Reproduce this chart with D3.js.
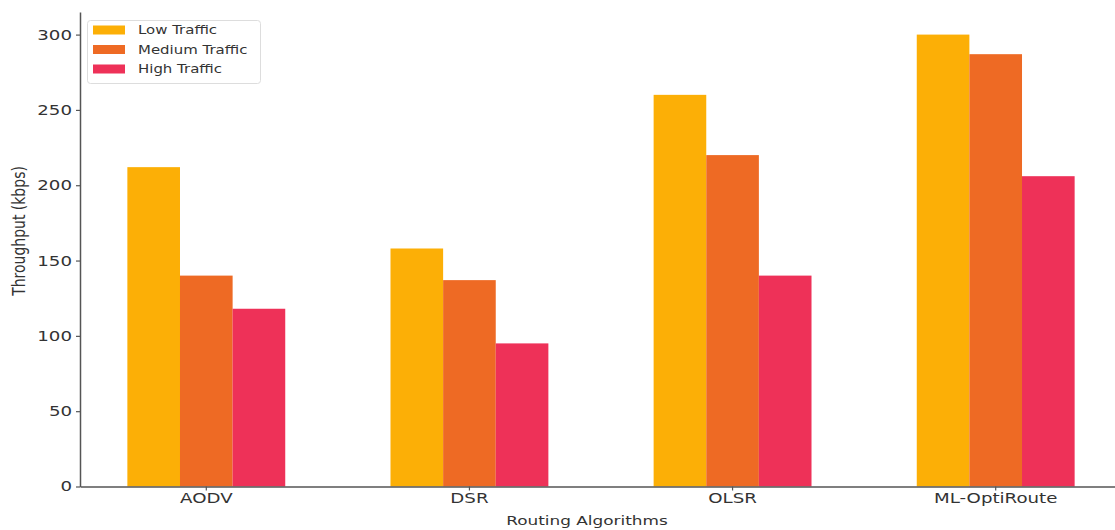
<!DOCTYPE html>
<html>
<head>
<meta charset="utf-8">
<script src="https://cdn.jsdelivr.net/npm/d3@7"></script>
<style>
  html, body { margin: 0; padding: 0; background: #fff; }
  svg { display: block; }
  text { font-family: "DejaVu Sans", sans-serif; fill: #333; }
</style>
</head>
<body>
<div id="chart"></div>
<script>
const categories = ["AODV", "DSR", "OLSR", "ML-OptiRoute"];
const seriesNames = ["Low Traffic", "Medium Traffic", "High Traffic"];
const lowTraffic = [212, 158, 260, 300];
const mediumTraffic = [140, 137, 220, 287];
const highTraffic = [118, 95, 140, 206];
const yTicks = [0, 50, 100, 150, 200, 250, 300];
const colors = ["#FCAF06", "#EE6A24", "#EE3158"];
const xLabel = "Routing Algorithms";
const yLabel = "Throughput (kbps)";

(function () {
const seriesValues = [lowTraffic, mediumTraffic, highTraffic];
const W = 1115, H = 530;
const SX = 1.3; // horizontal stretch of text in the reference

const svg = d3.select("#chart").append("svg").attr("width", W).attr("height", H);

const plotLeft = 80, plotRight = 1122, plotTop = 12, plotBottom = 486.5;

const x0 = d3.scaleBand().domain(categories).range([plotLeft, plotRight])
  .paddingInner(0.4).paddingOuter(0.18);
const x1 = d3.scaleBand().domain(seriesNames).range([0, x0.bandwidth()]).padding(0);
const y = d3.scaleLinear().domain([0, 315]).range([plotBottom, plotTop]);

// bars
const groups = svg.append("g").selectAll("g").data(categories).join("g")
  .attr("transform", d => `translate(${x0(d)},0)`);
groups.selectAll("rect")
  .data((c, i) => seriesNames.map((s, j) => ({ s, j, v: seriesValues[j][i] })))
  .join("rect")
  .attr("x", d => x1(d.s))
  .attr("width", x1.bandwidth())
  .attr("y", d => y(d.v))
  .attr("height", d => y(0) - y(d.v))
  .attr("fill", d => colors[d.j]);

// y axis
const gy = svg.append("g").attr("transform", `translate(${plotLeft},0)`)
  .call(d3.axisLeft(y).tickValues(yTicks).tickSize(4).tickPadding(4).tickSizeOuter(0));
gy.select(".domain").attr("stroke", "#555").attr("stroke-width", 1.5);
gy.selectAll(".tick line").attr("stroke", "#555").attr("stroke-width", 1.2);
gy.selectAll(".tick text")
  .attr("x", -8 / SX)
  .attr("transform", `scale(${SX},1)`)
  .style("font-size", "14px").attr("fill", "#333");

// x axis
const gx = svg.append("g").attr("transform", `translate(0,${plotBottom})`)
  .call(d3.axisBottom(x0).tickSize(4).tickPadding(3).tickSizeOuter(0));
gx.select(".domain").attr("stroke", "#555").attr("stroke-width", 1.5);
gx.selectAll(".tick line").attr("stroke", "#555").attr("stroke-width", 1.2);
gx.selectAll(".tick text")
  .attr("transform", `scale(${SX},1)`)
  .style("font-size", "14px").attr("fill", "#333");

// axis labels
svg.append("g").attr("transform", `translate(${587},${525}) scale(${SX},1)`)
  .append("text").attr("text-anchor", "middle")
  .style("font-size", "13px").text(xLabel);

svg.append("g").attr("transform", `translate(${25},${231}) scale(${SX},1) rotate(-90)`)
  .append("text").attr("text-anchor", "middle")
  .style("font-size", "14px").text(yLabel);

// legend
const lg = svg.append("g");
lg.append("rect").attr("x", 87.5).attr("y", 20.5).attr("width", 173).attr("height", 63)
  .attr("rx", 3).attr("fill", "#fff").attr("stroke", "#ddd").attr("stroke-width", 1);
const rowY = [30, 49.5, 69];
seriesNames.forEach((s, j) => {
  lg.append("rect").attr("x", 93).attr("y", rowY[j] - 4.5).attr("width", 32).attr("height", 9)
    .attr("fill", colors[j]);
  lg.append("g").attr("transform", `translate(138,${rowY[j] + 4}) scale(${SX},1)`)
    .append("text").style("font-size", "11.5px").text(s);
});
})();
</script>
</body>
</html>
